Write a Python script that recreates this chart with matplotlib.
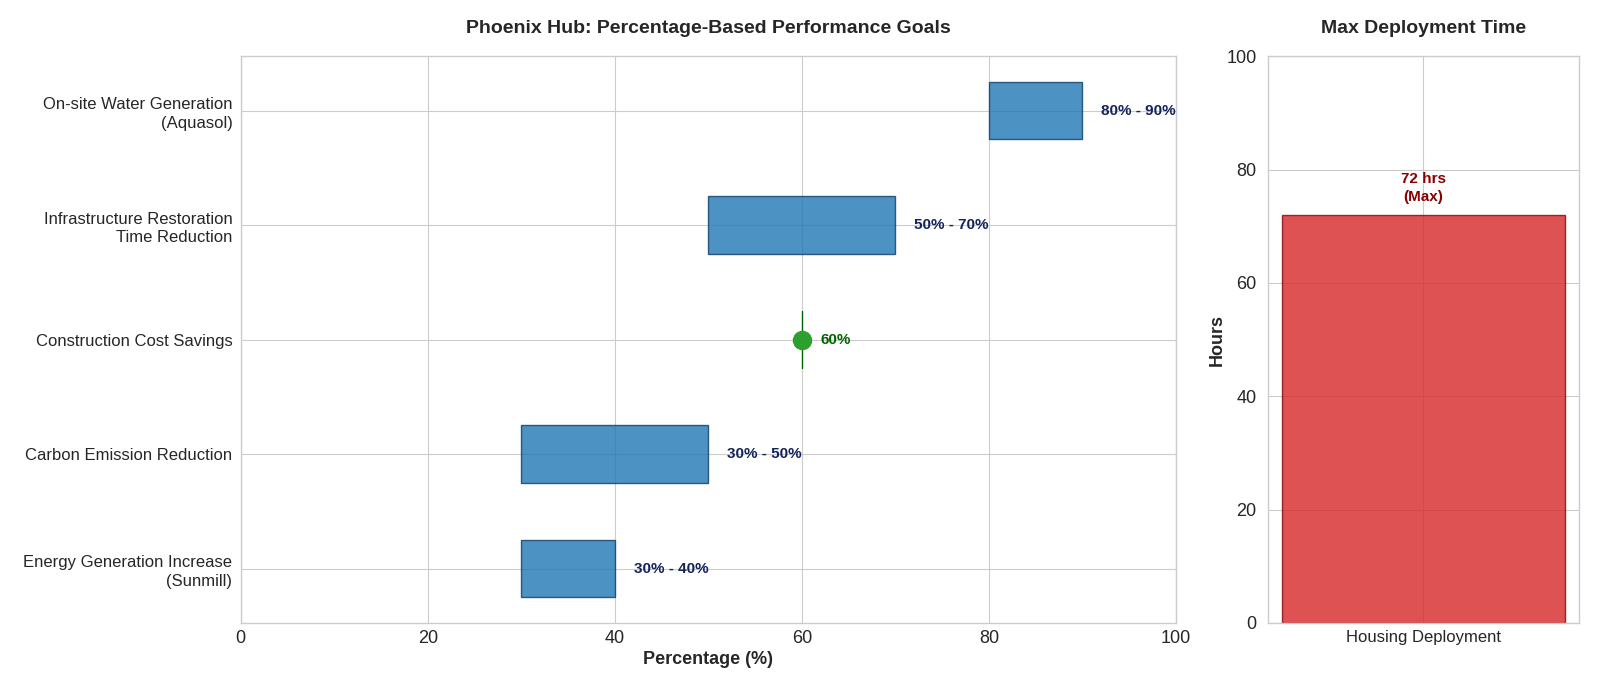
import numpy as np
import matplotlib.pyplot as plt

plt.style.use('seaborn-v0_8-whitegrid')
plt.rcParams['font.family'] = ['Liberation Sans', 'DejaVu Sans']

# donnees
goals = ['Energy Generation Increase\n(Sunmill)', 'Carbon Emission Reduction',
         'Construction Cost Savings', 'Infrastructure Restoration\nTime Reduction',
         'On-site Water Generation\n(Aquasol)']
low = [30, 30, 60, 50, 80]
high = [40, 50, 60, 70, 90]

deploy_cat = ['Housing Deployment']
deploy_hours = [72]

fig, (ax1, ax2) = plt.subplots(1, 2, figsize=(16, 6.86), dpi=100,
                               gridspec_kw={'width_ratios': [3, 1]})

ypos = np.arange(len(goals))
for i in ypos:
    if low[i] == high[i]:
        # point cible unique
        ax1.plot([low[i], low[i]], [i - 0.25, i + 0.25], color='darkgreen', lw=1, zorder=3)
        ax1.plot(low[i], i, 'o', color='tab:green', markersize=13, zorder=4)
        ax1.text(high[i] + 2, i, f'{low[i]}%', va='center', ha='left',
                 fontsize=11, fontweight='bold', color='darkgreen')
    else:
        ax1.barh(i, high[i] - low[i], left=low[i], height=0.5, color='tab:blue',
                 alpha=0.8, edgecolor='#0d3b66', linewidth=1, zorder=3)
        ax1.text(high[i] + 2, i, f'{low[i]}% - {high[i]}%', va='center', ha='left',
                 fontsize=11, fontweight='bold', color='#13235b')

ax1.set_yticks(ypos)
ax1.set_yticklabels(goals, fontsize=12, linespacing=1.3)
ax1.set_xlim(0, 100)
ax1.tick_params(axis='x', labelsize=13, pad=5)
ax1.tick_params(axis='y', pad=6)
ax1.set_xlabel('Percentage (%)', fontsize=13, fontweight='bold', labelpad=3)
ax1.set_title('Phoenix Hub: Percentage-Based Performance Goals', fontsize=14,
              fontweight='bold', pad=17)
for s in ax1.spines.values():
    s.set_visible(True)
    s.set_color('#cccccc')

# graph 2
ax2.bar(deploy_cat, deploy_hours, width=0.8, color='tab:red', alpha=0.8,
        edgecolor='darkred', linewidth=1)
ax2.text(0, deploy_hours[0] + 2, f'{deploy_hours[0]} hrs\n(Max)', ha='center', va='bottom',
         fontsize=11, fontweight='bold', color='darkred', linespacing=1.3)
ax2.set_ylim(0, 100)
ax2.set_ylabel('Hours', fontsize=13, fontweight='bold', labelpad=0)
ax2.set_title('Max Deployment Time', fontsize=14, fontweight='bold', pad=17)
ax2.tick_params(axis='y', labelsize=13, pad=8)
ax2.tick_params(axis='x', labelsize=12, pad=5)
for s in ax2.spines.values():
    s.set_visible(True)
    s.set_color('#cccccc')

fig.subplots_adjust(left=0.1505, right=0.987, bottom=0.092, top=0.918, wspace=0.147)
fig.savefig('out.png', dpi=100)
